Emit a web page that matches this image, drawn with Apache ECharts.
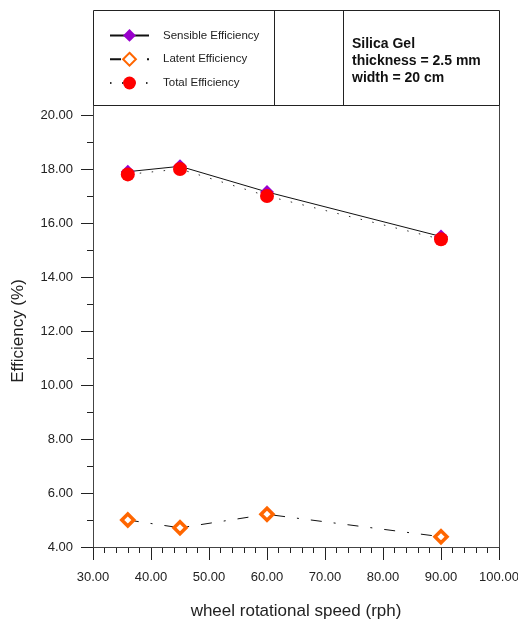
<!DOCTYPE html>
<html>
<head>
<meta charset="utf-8">
<script src="https://cdn.jsdelivr.net/npm/echarts@6/dist/echarts.min.js"></script>
<style>
  html, body { margin: 0; padding: 0; background: #fff; }
  #chart { width: 518px; height: 623px; }
</style>
</head>
<body>
<div id="chart"></div>
<script>
// Wheel rotational speed (rph)
const speeds = [36, 45, 60, 90];
// Efficiency values (%)
const sensible = [17.9, 18.1, 17.15, 15.5];
const latent = [5.0, 4.71, 5.21, 4.38];
const total = [17.8, 18.0, 17.0, 15.4];

const seriesNames = ['Sensible Efficiency', 'Latent Efficiency', 'Total Efficiency'];
const noteLines = ['Silica Gel', 'thickness = 2.5 mm', 'width = 20 cm'];

const pairs = (xs, ys) => xs.map((x, i) => [x, ys[i]]);

const FONT = '"Liberation Sans", Arial, sans-serif';
const chart = echarts.init(document.getElementById('chart'), null, { renderer: 'canvas' });

const G = { left: 93, right: 19, top: 115, bottom: 76 };
const W = 518, H = 623;
const plotRight = W - G.right;
const plotBottom = H - G.bottom;

chart.setOption({
  animation: false,
  backgroundColor: '#fff',
  grid: {
    left: G.left, right: G.right, top: G.top, bottom: G.bottom,
    containLabel: false,
    outerBoundsMode: 'none'
  },
  legend: {
    orient: 'vertical',
    left: 109,
    top: 29,
    itemWidth: 39,
    itemHeight: 16,
    itemGap: 10,
    padding: 0,
    selectedMode: false,
    data: seriesNames,
    textStyle: { fontFamily: FONT, fontSize: 11.5, color: '#222', padding: [0, 0, 0, 9] }
  },
  xAxis: {
    type: 'value',
    min: 30,
    max: 100,
    interval: 10,
    name: 'wheel rotational speed (rph)',
    nameLocation: 'middle',
    nameGap: 56,
    nameTextStyle: { fontFamily: FONT, fontSize: 17, color: '#222' },
    axisLine: { show: true, lineStyle: { color: '#222', width: 1 } },
    axisTick: { show: true, inside: false, length: 13, lineStyle: { color: '#222' } },
    minorTick: { show: true, splitNumber: 5, length: 6, lineStyle: { color: '#222' } },
    splitLine: { show: false },
    axisLabel: {
      margin: 24,
      fontFamily: FONT, fontSize: 13, color: '#222',
      formatter: v => v.toFixed(2)
    }
  },
  yAxis: {
    type: 'value',
    min: 4,
    max: 20,
    interval: 2,
    name: 'Efficiency (%)',
    nameLocation: 'middle',
    nameGap: 66,
    nameTextStyle: { fontFamily: FONT, fontSize: 17, color: '#222' },
    axisLine: { show: true, lineStyle: { color: '#222', width: 1 } },
    axisTick: { show: true, inside: false, length: 12, lineStyle: { color: '#222' } },
    minorTick: { show: true, splitNumber: 2, length: 6, lineStyle: { color: '#222' } },
    splitLine: { show: false },
    axisLabel: {
      margin: 20,
      fontFamily: FONT, fontSize: 13, color: '#222',
      formatter: v => v.toFixed(2)
    }
  },
  series: [
    {
      name: seriesNames[0],
      type: 'line',
      data: pairs(speeds, sensible),
      symbol: 'diamond',
      symbolSize: 14,
      itemStyle: { color: '#9900CC' },
      lineStyle: { color: '#111', width: 1, type: 'solid' }
    },
    {
      name: seriesNames[1],
      type: 'line',
      data: pairs(speeds, latent),
      symbol: 'diamond',
      symbolSize: 12,
      itemStyle: { color: '#fff', borderColor: '#FF6600', borderWidth: 3.5 },
      lineStyle: { color: '#111', width: 1, type: [11, 12, 2, 12] }
    },
    {
      name: seriesNames[2],
      type: 'line',
      data: pairs(speeds, total),
      symbol: 'circle',
      symbolSize: 14,
      itemStyle: { color: '#FF0000' },
      lineStyle: { color: '#333', width: 1, type: [1.5, 10.5] }
    }
  ],
  graphic: [
    // legend and note box above the plot
    { type: 'rect', shape: { x: 93.5, y: 10.5, width: plotRight - 93, height: 95 },
      style: { fill: null, stroke: '#222', lineWidth: 1 }, z: 10 },
    { type: 'line', shape: { x1: 274.5, y1: 10.5, x2: 274.5, y2: 105.5 },
      style: { stroke: '#222', lineWidth: 1 }, z: 10 },
    { type: 'line', shape: { x1: 343.5, y1: 10.5, x2: 343.5, y2: 105.5 },
      style: { stroke: '#222', lineWidth: 1 }, z: 10 },
    // plot frame
    { type: 'rect', shape: { x: 93.5, y: 105.5, width: plotRight - 93, height: plotBottom - 105 },
      style: { fill: null, stroke: '#444', lineWidth: 1 }, z: 1 },
    {
      type: 'text', left: 352, top: 36, z: 10,
      style: {
        text: noteLines.join('\n'),
        font: 'bold 14px ' + FONT,
        fill: '#111',
        lineHeight: 17
      }
    }
  ]
});
</script>
</body>
</html>
